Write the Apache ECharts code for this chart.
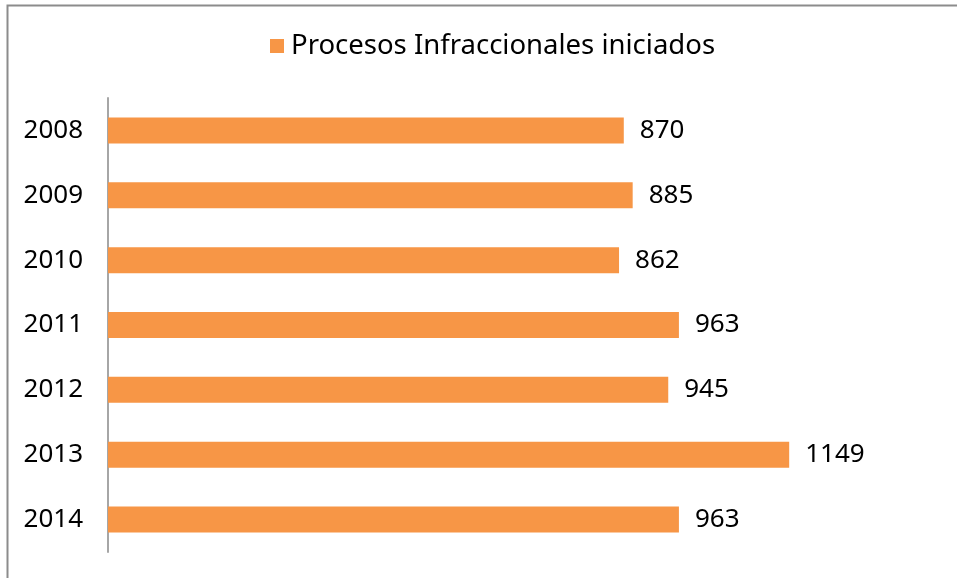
<!DOCTYPE html>
<html>
<head>
<meta charset="utf-8">
<script src="https://cdn.jsdelivr.net/npm/echarts@6/dist/echarts.min.js"></script>
<style>
  html, body { margin: 0; padding: 0; background: #fff; }
  #chart { width: 957px; height: 578px; }
</style>
</head>
<body>
<div id="chart"></div>
<script>
// data
const years = ['2008', '2009', '2010', '2011', '2012', '2013', '2014']
const procesos = [870, 885, 862, 963, 945, 1149, 963]
const seriesName = 'Procesos Infraccionales iniciados'

const fontFamily = '"Noto Sans", sans-serif'

const myChart = echarts.init(document.getElementById('chart'))
const option = {
  animation: false,
  // outer frame of the chart area
  graphic: [
    {
      type: 'rect',
      shape: { x: 7.5, y: 5.5, width: 1000, height: 700 },
      style: { fill: 'none', stroke: '#8c8c8c', lineWidth: 2 },
      silent: true
    }
  ],
  legend: {
    data: [seriesName],
    top: 27,
    left: 265,
    itemWidth: 14,
    itemHeight: 14,
    icon: 'rect',
    itemGap: 10,
    textStyle: {
      fontFamily: fontFamily,
      fontSize: 27.5,
      color: '#000',
      padding: [0, 0, 0, 2]
    }
  },
  grid: {
    left: 108,
    top: 98,
    width: 830,
    height: 454,
    containLabel: false
  },
  xAxis: {
    type: 'value',
    min: 0,
    max: 1400,
    show: false
  },
  yAxis: {
    type: 'category',
    inverse: true,
    data: years,
    axisLine: { show: true, lineStyle: { color: '#a6a6a6', width: 2 } },
    axisTick: { show: false },
    axisLabel: {
      margin: 25,
      fontFamily: fontFamily,
      fontSize: 26,
      color: '#000'
    }
  },
  series: [
    {
      name: seriesName,
      type: 'bar',
      data: procesos,
      barWidth: 26,
      itemStyle: { color: '#f79646' },
      label: {
        show: true,
        position: 'right',
        distance: 16,
        fontFamily: fontFamily,
        fontSize: 26,
        color: '#000'
      }
    }
  ]
}
myChart.setOption(option)
</script>
</body>
</html>
